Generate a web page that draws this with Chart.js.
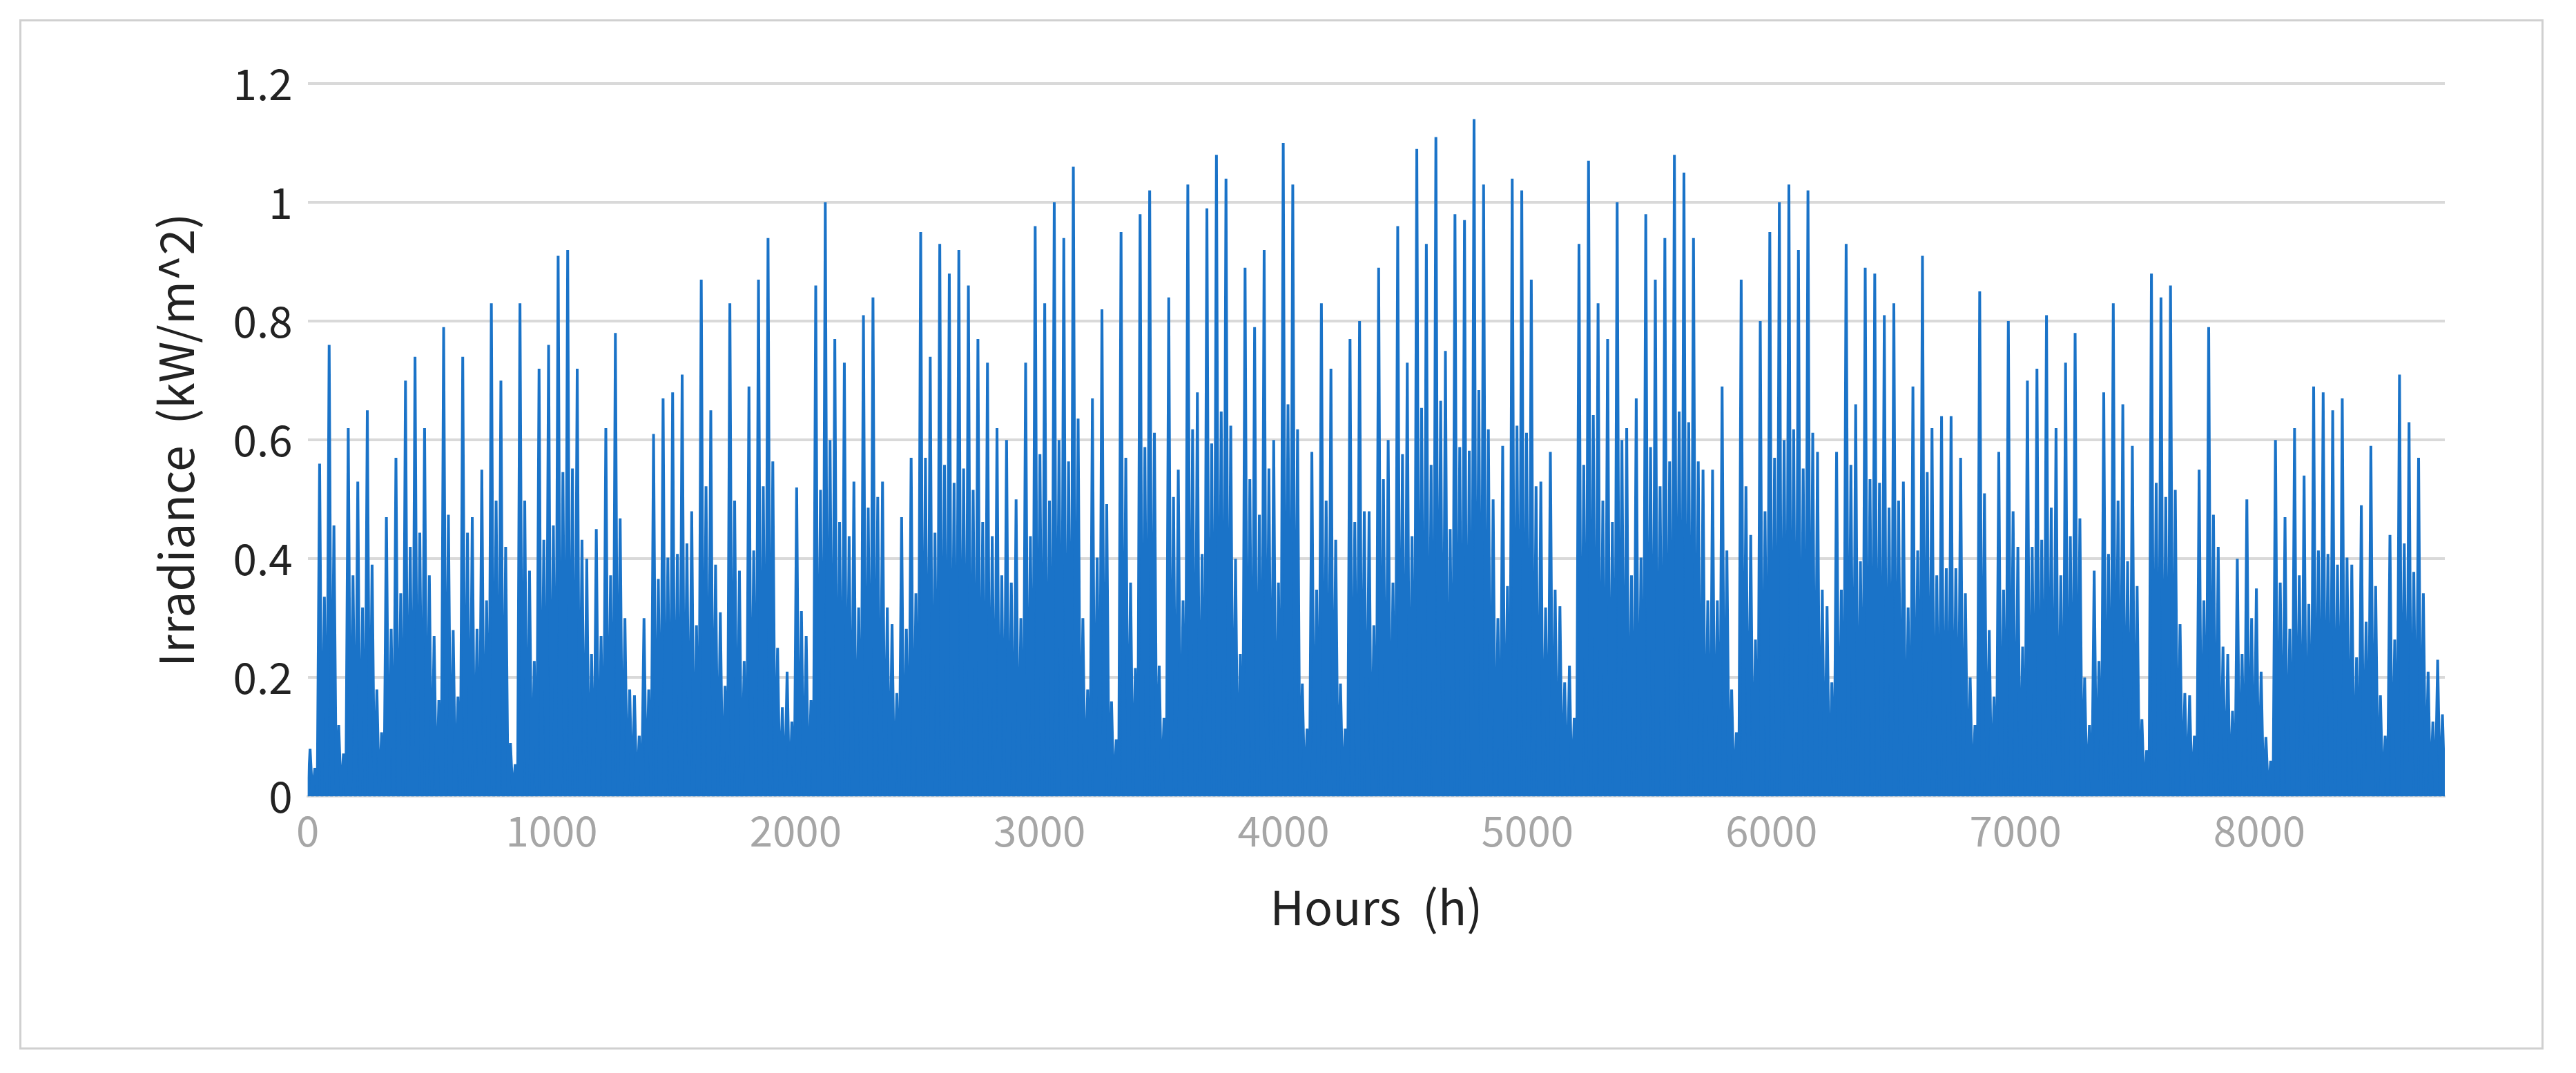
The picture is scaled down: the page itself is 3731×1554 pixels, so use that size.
<!DOCTYPE html>
<html><head><meta charset="utf-8">
<script src="https://cdn.jsdelivr.net/npm/chart.js@4"></script>
<style>
html,body{margin:0;padding:0;background:#fff;}
#box{position:absolute;left:28px;top:28px;width:3656px;height:1492px;border:3px solid #d0d0d0;box-sizing:border-box;}
#wrap{position:absolute;left:0;top:0;width:3731px;height:1554px;}
</style></head><body>
<div id="box"></div>
<div id="wrap"><canvas id="c" width="3731" height="1554"></canvas></div>
<script>
const totalHours = 8760;
const xTicks = [0,1000,2000,3000,4000,5000,6000,7000,8000];
const yTicks = [0,0.2,0.4,0.6,0.8,1,1.2];
const peaks = [
0.08,0.56,0.76,0.12,0.62,0.53,0.65,0.18,0.47,0.57,
0.70,0.74,0.62,0.27,0.79,0.28,0.74,0.47,0.55,0.83,0.70,0.09,0.83,
0.38,0.72,0.76,0.91,0.92,0.72,0.40,0.45,0.62,0.78,0.30,0.17,0.30,
0.61,0.67,0.68,0.71,0.48,0.87,0.65,0.31,0.83,0.38,0.69,0.87,0.94,0.25,0.21,0.52,
0.27,0.86,1.0,0.77,0.73,0.53,0.81,0.84,0.53,0.29,0.47,0.57,0.95,0.74,
0.93,0.88,0.92,0.86,0.77,0.73,0.62,0.60,0.50,0.73,0.96,0.83,1.0,
0.94,1.06,0.30,0.67,0.82,0.16,0.95,0.36,0.98,1.02,0.22,0.84,0.55,1.03,
0.68,0.99,1.08,1.04,0.40,0.89,0.79,0.92,0.60,1.10,1.03,
0.19,0.58,0.83,0.72,0.19,0.77,0.80,0.48,0.89,0.60,0.96,0.73,
1.09,0.93,1.11,0.75,0.98,0.97,1.14,1.03,0.50,0.59,1.04,1.02,0.87,0.53,
0.58,0.32,0.22,0.93,1.07,0.83,0.77,1.0,0.62,0.67,0.98,0.87,
0.94,1.08,1.05,0.94,0.55,0.55,0.69,0.18,0.87,0.44,0.80,0.95,
1.0,1.03,0.92,1.02,0.58,0.32,0.58,0.93,0.66,0.89,0.88,0.81,0.83,
0.53,0.69,0.91,0.62,0.64,0.64,0.57,0.20,0.85,0.28,0.58,0.80,0.42,
0.70,0.72,0.81,0.62,0.73,0.78,0.20,0.38,0.68,0.83,0.66,0.59,0.13,
0.88,0.84,0.86,0.29,0.17,0.55,0.79,0.42,0.24,0.40,0.50,
0.35,0.10,0.60,0.47,0.62,0.54,0.69,0.68,0.65,0.67,0.39,0.49,
0.59,0.17,0.44,0.71,0.63,0.57,0.21,0.23
];
const step = totalHours / peaks.length;
const pts = [];
peaks.forEach((p,i)=>{
  const s = i*step;
  pts.push({x:s, y:0});
  pts.push({x:s+step*0.25, y:p});
  pts.push({x:s+step*0.5, y:0});
  pts.push({x:s+step*0.75, y:p*0.6});
});
pts.push({x:totalHours, y:0});
const FONT = "'Noto Sans CJK SC','Noto Sans',sans-serif";
new Chart(document.getElementById('c'), {
  type:'line',
  data:{datasets:[{data:pts, borderColor:'#1a73c8', backgroundColor:'#1a73c8', borderWidth:4, pointRadius:0, fill:'origin', tension:0}]},
  options:{
    responsive:false, animation:false, devicePixelRatio:1,
    layout:{padding:{left:210,right:190,top:121,bottom:195}},
    plugins:{legend:{display:false},tooltip:{enabled:false}},
    scales:{
      x:{type:'linear', min:0, max:totalHours,
        afterBuildTicks:a=>{a.ticks = xTicks.map(v=>({value:v}));},
        ticks:{color:'#a6a6a6', font:{family:FONT,size:60}, padding:14, callback:v=>String(v)},
        grid:{display:false, drawTicks:false},
        border:{color:'#d9d9d9', width:3},
        title:{display:true, text:'Hours  (h)', color:'#222', font:{family:FONT,size:68}, padding:{top:20}}},
      y:{min:0, max:1.2,
        afterBuildTicks:a=>{a.ticks = yTicks.map(v=>({value:v}));},
        ticks:{color:'#222', font:{family:FONT,size:62}, padding:22, callback:v=>String(Math.round(v*10)/10)},
        grid:{color:'#d9d9d9', lineWidth:4, drawTicks:false},
        border:{display:false},
        title:{display:true, text:'Irradiance  (kW/m^2)', color:'#222', font:{family:FONT,size:68}, padding:{bottom:20}}}
    }
  }
});
</script>
</body></html>
